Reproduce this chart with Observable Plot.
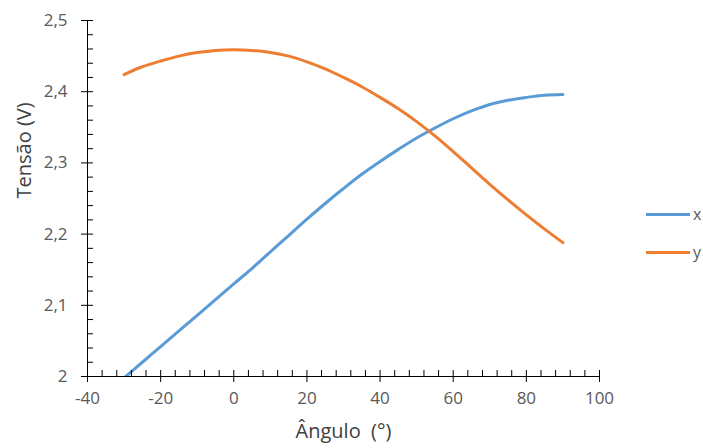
<!DOCTYPE html>
<html>
<head>
<meta charset="utf-8">
<script src="https://cdn.jsdelivr.net/npm/d3@7"></script>
<script src="https://cdn.jsdelivr.net/npm/@observablehq/plot@0.6"></script>
<style>
  html, body { margin: 0; padding: 0; background: #fff; }
  #wrap { position: relative; width: 703px; height: 448px; font-family: "Open Sans", sans-serif; }
  .legend { position: absolute; left: 646px; font-size: 16px; color: #595959; display: flex; align-items: center; height: 20px; }
  .legend .sw { display: inline-block; width: 44px; height: 3px; margin-right: 3px; }
  .pre { white-space: pre; }
</style>
</head>
<body>
<div id="wrap"></div>
<script>
const angles = [-30,-25,-20,-15,-10,-5,0,5,10,15,20,25,30,35,40,45,50,55,60,65,70,75,80,85,90];
const xValues = [1.998,2.020,2.042,2.064,2.086,2.108,2.130,2.152,2.175,2.198,2.221,2.243,2.264,2.284,2.302,2.319,2.335,2.349,2.362,2.373,2.382,2.388,2.392,2.395,2.396];
const yValues = [2.424,2.435,2.443,2.450,2.455,2.458,2.459,2.458,2.455,2.450,2.442,2.432,2.420,2.407,2.392,2.376,2.358,2.338,2.316,2.293,2.270,2.248,2.227,2.207,2.188];
const seriesNames = ["x", "y"];
const colors = ["#5B9BD5", "#ED7D31"];
const xMajor = [-40,-20,0,20,40,60,80,100];
const yMajor = [2,2.1,2.2,2.3,2.4,2.5];
const xMinor = d3.range(-40, 100.001, 4).filter(v => !xMajor.includes(Math.round(v)));
const yMinor = d3.range(0, 26).map(i => +(2 + i * 0.02).toFixed(2)).filter(v => !yMajor.includes(v));

const W = 703, H = 448, mL = 87, mR = 104, mT = 20, mB = 72;
const pw = W - mL - mR, ph = H - mT - mB;

const dataX = angles.map((a, i) => ({a, v: xValues[i]}));
const dataY = angles.map((a, i) => ({a, v: yValues[i]}));
const fmt = d => String(d).replace(".", ",");

const chart = Plot.plot({
  width: W, height: H,
  marginLeft: mL, marginRight: mR, marginTop: mT, marginBottom: mB,
  style: {fontFamily: "Open Sans, sans-serif", fontSize: "17px", color: "#595959", background: "#fff"},
  x: {domain: [-40, 100], axis: null},
  y: {domain: [2, 2.5], axis: null},
  marks: [
    Plot.line(dataX, {x: "a", y: "v", stroke: colors[0], strokeWidth: 3, curve: "catmull-rom", clip: true, strokeLinecap: "round"}),
    Plot.line(dataY, {x: "a", y: "v", stroke: colors[1], strokeWidth: 3, curve: "catmull-rom", clip: true, strokeLinecap: "round"}),
    Plot.tickY(yMinor, {y: d => d, insetRight: pw - 6, stroke: "#000"}),
    Plot.tickY(yMajor, {y: d => d, insetRight: pw - 12, dx: -6, stroke: "#000"}),
    Plot.tickX(xMinor, {x: d => d, insetTop: ph - 6, stroke: "#000"}),
    Plot.tickX(xMajor, {x: d => d, insetTop: ph - 12, dy: 6, stroke: "#000"}),
    Plot.ruleX([-40], {stroke: "#000"}),
    Plot.ruleY([2], {stroke: "#000"}),
    Plot.axisY({ticks: yMajor, tickSize: 0, tickPadding: 20, tickFormat: fmt, fill: "#595959", fontSize: 17, label: null}),
    Plot.axisX({ticks: xMajor, tickSize: 0, tickPadding: 15, tickFormat: fmt, fill: "#595959", fontSize: 17, label: null}),
    Plot.text(["Tensão (V)"], {frameAnchor: "left", dx: -63, rotate: -90, fontSize: 20, fill: "#404040"}),
    Plot.text(["Ângulo  (°)"], {frameAnchor: "bottom", dy: 61, fontSize: 20, fill: "#404040", className: "pre"})
  ]
});
const wrap = document.getElementById("wrap");
wrap.appendChild(chart);
const legTops = [204, 242];
seriesNames.forEach((n, i) => {
  const d = document.createElement("div");
  d.className = "legend";
  d.style.top = legTops[i] + "px";
  const sw = document.createElement("span");
  sw.className = "sw";
  sw.style.background = colors[i];
  d.appendChild(sw);
  d.appendChild(document.createTextNode(n));
  wrap.appendChild(d);
});
</script>
</body>
</html>
